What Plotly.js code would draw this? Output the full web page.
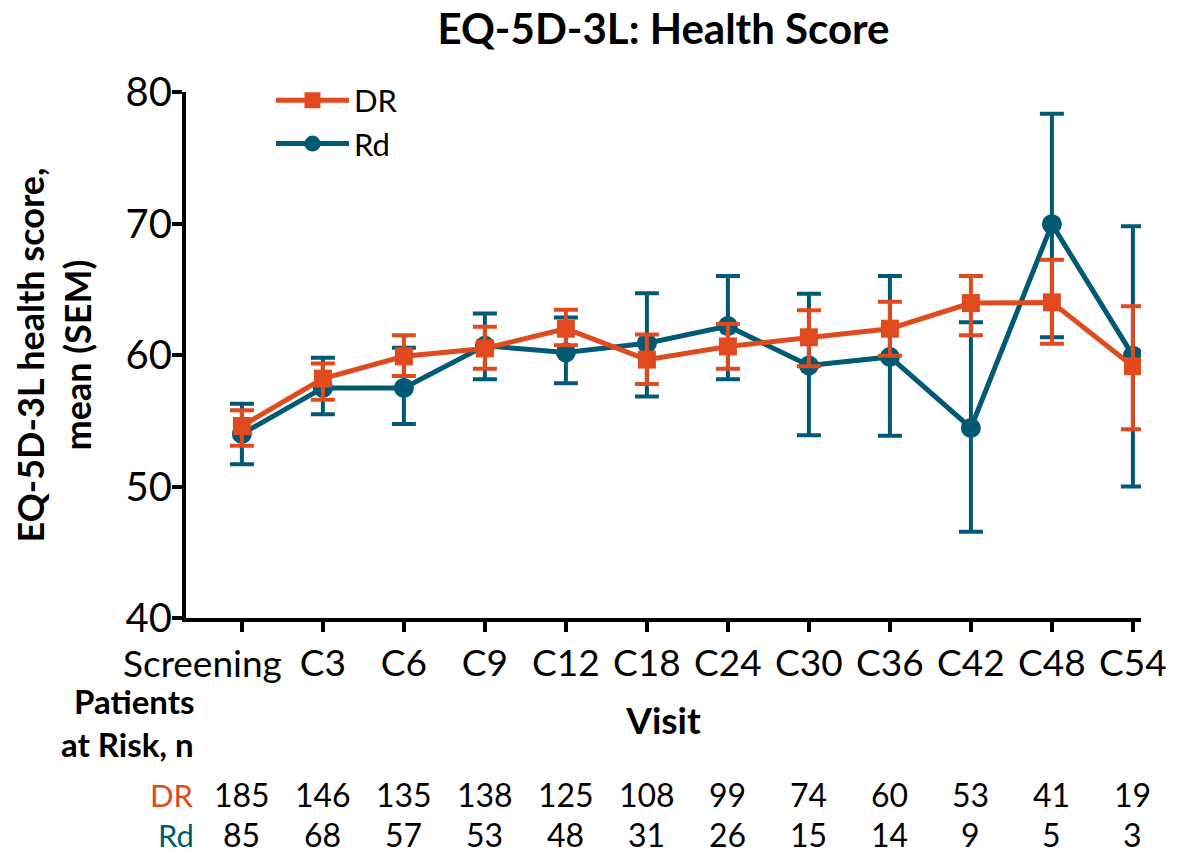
<!DOCTYPE html>
<html>
<head>
<meta charset="utf-8">
<script src="https://cdn.plot.ly/plotly-3.0.1.min.js"></script>
<style>html,body{margin:0;padding:0;background:#fff;}#chart{width:1196px;height:853px;}</style>
</head>
<body>
<div id="chart"></div>
<script>
const visits = ["Screening","C3","C6","C9","C12","C18","C24","C30","C36","C42","C48","C54"];

const drMean  = [54.6, 58.2, 59.9, 60.5, 62.0, 59.65, 60.65, 61.35, 62.0, 63.95, 64.0, 59.15];
const drUpper = [55.8, 59.35, 61.5, 62.15, 63.45, 61.55, 62.35, 63.4, 64.05, 66.0, 67.25, 63.7];
const drLower = [53.1, 56.6, 58.4, 58.95, 60.75, 57.8, 58.95, 59.15, 59.95, 61.5, 60.85, 54.35];

const rdMean  = [54.0, 57.5, 57.5, 60.7, 60.2, 60.9, 62.2, 59.2, 59.85, 54.45, 69.95, 59.95];
const rdUpper = [56.3, 59.8, 60.55, 63.15, 62.85, 64.7, 66.0, 64.65, 66.0, 62.5, 78.35, 69.8];
const rdLower = [51.7, 55.5, 54.75, 58.15, 57.85, 56.85, 58.15, 53.9, 53.85, 46.55, 61.35, 50.0];

const drAtRisk = [185, 146, 135, 138, 125, 108, 99, 74, 60, 53, 41, 19];
const rdAtRisk = [85, 68, 57, 53, 48, 31, 26, 15, 14, 9, 5, 3];

const yTicks = [40, 50, 60, 70, 80];

const ORANGE = "#E04A1E";
const TEAL = "#005A73";
const FONT = "Lato, 'Open Sans', sans-serif";

function diff(a, b) { return a.map((v, i) => +(v - b[i]).toFixed(3)); }

// The long first label is drawn left of its tick (as in the original), so it is placed as a
// right-anchored annotation; the remaining visit labels are ordinary tick labels.
const xTickText = visits.map((v, i) => i === 0 ? "" : v);

const rdTrace = {
  x: visits, y: rdMean, name: "Rd", type: "scatter", mode: "lines+markers",
  line: {color: TEAL, width: 5},
  marker: {color: TEAL, size: 20, symbol: "circle"},
  error_y: {type: "data", symmetric: false, array: diff(rdUpper, rdMean), arrayminus: diff(rdMean, rdLower),
            color: TEAL, thickness: 4, width: 12},
  legendrank: 2
};
const drTrace = {
  x: visits, y: drMean, name: "DR", type: "scatter", mode: "lines+markers",
  line: {color: ORANGE, width: 5},
  marker: {color: ORANGE, size: 18, symbol: "square"},
  error_y: {type: "data", symmetric: false, array: diff(drUpper, drMean), arrayminus: diff(drMean, drLower),
            color: ORANGE, thickness: 4, width: 12},
  legendrank: 1
};

const annotations = [];
annotations.push({x: visits[0], xref: "x", xshift: 42, y: -0.084, yref: "paper", text: visits[0], showarrow: false,
  xanchor: "right", yanchor: "middle", font: {family: FONT, size: 37, color: "#000"}});
const rowDR = -0.3365, rowRd = -0.4125;
visits.forEach((v, i) => {
  annotations.push({x: v, xref: "x", y: rowDR, yref: "paper", text: String(drAtRisk[i]), showarrow: false,
    xanchor: "center", yanchor: "middle", font: {family: FONT, size: 32, color: "#000"}});
  annotations.push({x: v, xref: "x", y: rowRd, yref: "paper", text: String(rdAtRisk[i]), showarrow: false,
    xanchor: "center", yanchor: "middle", font: {family: FONT, size: 32, color: "#000"}});
});
annotations.push({x: 0.01, xref: "paper", y: rowDR, yref: "paper", text: "DR", showarrow: false,
  xanchor: "right", yanchor: "middle", font: {family: FONT, size: 31, color: ORANGE}});
annotations.push({x: 0.01, xref: "paper", y: rowRd, yref: "paper", text: "Rd", showarrow: false,
  xanchor: "right", yanchor: "middle", font: {family: FONT, size: 31, color: TEAL}});
annotations.push({x: 0.01, xref: "paper", y: -0.157, yref: "paper", text: "<b>Patients</b>", showarrow: false,
  xanchor: "right", yanchor: "middle", font: {family: FONT, size: 33, color: "#000"}});
annotations.push({x: 0.01, xref: "paper", y: -0.24, yref: "paper", text: "<b>at Risk, n</b>", showarrow: false,
  xanchor: "right", yanchor: "middle", font: {family: FONT, size: 33, color: "#000"}});

const layout = {
  width: 1196, height: 853,
  margin: {l: 186, r: 55, t: 92, b: 235},
  paper_bgcolor: "#fff", plot_bgcolor: "#fff",
  font: {family: FONT, color: "#000"},
  title: {text: "<b>EQ-5D-3L: Health Score</b>", font: {family: FONT, size: 42, color: "#000"},
          x: 0.5, xref: "paper", xanchor: "center", y: 1 - 29/853, yref: "container", yanchor: "middle"},
  showlegend: true,
  legend: {x: 0.089, y: 1.035, xanchor: "left", yanchor: "top", bgcolor: "rgba(0,0,0,0)",
           font: {family: FONT, size: 31, color: "#000"}, itemwidth: 73, tracegroupgap: 0},
  xaxis: {
    type: "category", categoryorder: "array", categoryarray: visits,
    tickvals: visits, ticktext: xTickText,
    range: [-0.69, 11.1],
    showline: true, linecolor: "#000", linewidth: 4,
    ticks: "outside", ticklen: 10, tickwidth: 4, tickcolor: "#000",
    showgrid: false, zeroline: false, tickangle: 0,
    tickfont: {family: FONT, size: 37, color: "#000"},
    title: {text: "<b>Visit</b>", font: {family: FONT, size: 37, color: "#000"}, standoff: 26},
    automargin: false
  },
  yaxis: {
    range: [40, 80], tickvals: yTicks, ticktext: yTicks.map(String),
    showline: true, linecolor: "#000", linewidth: 4,
    ticks: "outside", ticklen: 10, tickwidth: 4, tickcolor: "#000",
    showgrid: false, zeroline: false, ticklabelstandoff: -8,
    tickfont: {family: FONT, size: 40, color: "#000"},
    title: {text: "<b>EQ-5D-3L health score,<br>mean (SEM)</b>", font: {family: FONT, size: 36, color: "#000"}, standoff: 24},
    automargin: false
  },
  annotations: annotations
};

Plotly.newPlot("chart", [rdTrace, drTrace], layout, {displayModeBar: false, staticPlot: true});
</script>
</body>
</html>
